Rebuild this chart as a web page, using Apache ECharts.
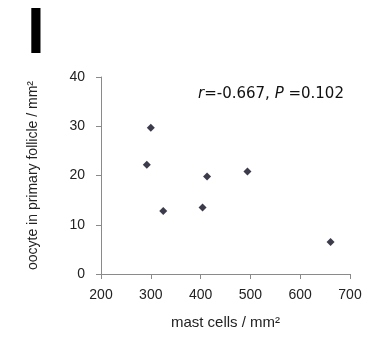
<!DOCTYPE html>
<html>
<head>
<meta charset="utf-8">
<script src="https://cdn.jsdelivr.net/npm/echarts@6/dist/echarts.min.js"></script>
<style>
  html, body { margin: 0; padding: 0; background: #fff; }
  #chart { width: 371px; height: 340px; }
</style>
</head>
<body>
<div id="chart"></div>
<script>
// mast cells / mm2 vs oocyte in primary follicle / mm2
const mastCells = [300, 292, 325, 404, 413, 494, 661];
const oocytes = [29.7, 22.2, 12.8, 13.5, 19.8, 20.8, 6.5];
const xTicks = [200, 300, 400, 500, 600, 700];
const yTicks = [0, 10, 20, 30, 40];

const font = "Liberation Sans, Arial, sans-serif";
const wideFont = "DejaVu Sans, Liberation Sans, sans-serif";
const chart = echarts.init(document.getElementById("chart"));

const points = mastCells.map((x, i) => [x, oocytes[i]]);

chart.setOption({
  animation: false,
  grid: { left: 101, top: 77, right: 21, bottom: 66 },
  xAxis: {
    type: "value",
    min: xTicks[0],
    max: xTicks[xTicks.length - 1],
    interval: 100,
    name: "mast cells / mm²",
    nameLocation: "middle",
    nameGap: 41,
    nameTextStyle: { fontFamily: font, fontSize: 15, color: "#222" },
    axisLine: { lineStyle: { color: "#8a8a8a", width: 1 } },
    axisTick: { show: true, inside: false, length: 5, lineStyle: { color: "#8a8a8a" } },
    axisLabel: { fontFamily: font, fontSize: 14, color: "#222", margin: 14 },
    splitLine: { show: false },
  },
  yAxis: {
    type: "value",
    min: yTicks[0],
    max: yTicks[yTicks.length - 1],
    interval: 10,
    name: "oocyte in primary follicle / mm²",
    nameLocation: "middle",
    nameGap: 61,
    nameTextStyle: { fontFamily: font, fontSize: 14, color: "#222" },
    axisLine: { show: true, lineStyle: { color: "#8a8a8a", width: 1 } },
    axisTick: { show: true, inside: false, length: 5, lineStyle: { color: "#8a8a8a" } },
    axisLabel: { fontFamily: font, fontSize: 14, color: "#222", margin: 16 },
    splitLine: { show: false },
  },
  series: [
    {
      type: "scatter",
      data: points,
      symbol: "diamond",
      symbolSize: 8,
      itemStyle: { color: "#0a0a1e" },
    },
  ],
  graphic: [
    {
      type: "text",
      left: 27,
      top: 3,
      style: {
        text: "I",
        fontFamily: font,
        fontWeight: "bold",
        fontSize: 64,
        fill: "#000",
      },
    },
    {
      type: "text",
      left: 198,
      top: 87,
      style: {
        text: "{i|r}=-0.667, {i|P} =0.102",
        fontFamily: wideFont,
        fontSize: 15,
        fill: "#111",
        rich: {
          i: { fontFamily: wideFont, fontSize: 15, fontStyle: "italic", fill: "#111" },
        },
      },
    },
  ],
});
</script>
</body>
</html>
